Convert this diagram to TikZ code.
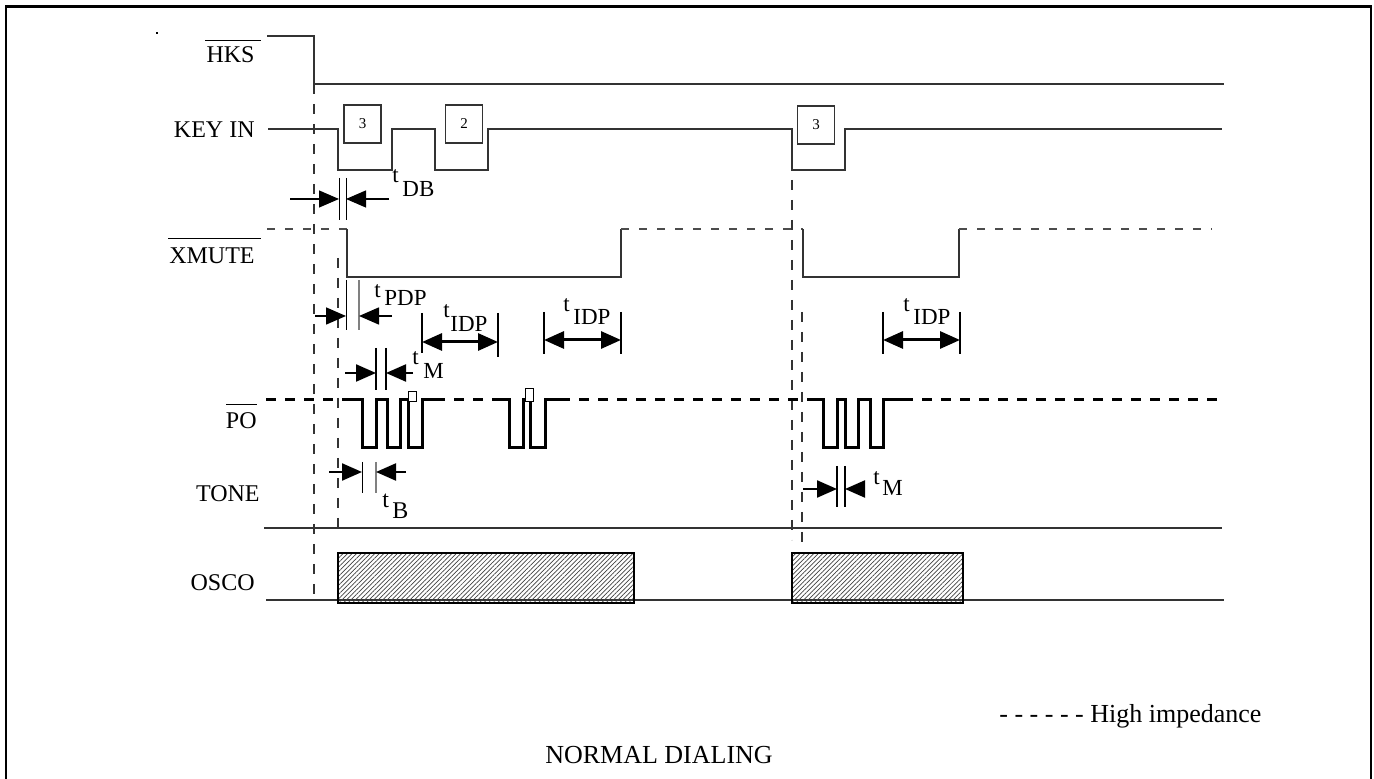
\documentclass[tikz,border=0pt]{standalone}
\usepackage{fontspec}
\setmainfont{Liberation Serif}
\usetikzlibrary{arrows.meta,patterns.meta}
\begin{document}
\begin{tikzpicture}[x=0.5pt,y=-0.5pt,
  sig/.style={line width=0.75pt, draw=black!80},
  hiz/.style={line width=0.7pt, draw=black!70, dash pattern=on 4pt off 5pt},
  guide/.style={line width=0.6pt, draw=black!80, dash pattern=on 5pt off 5pt},
  podash/.style={line width=1.5pt, draw=black, dash pattern=on 5pt off 4.5pt},
  pulse/.style={line width=1.5pt, draw=black},
  thin mk/.style={line width=0.5pt, draw=black},
  gray mk/.style={line width=0.6pt, draw=black!50},
  thick mk/.style={line width=1pt, draw=black},
  lbl/.style={font=\fontsize{12}{14}\selectfont, inner sep=0pt},
  big/.style={font=\fontsize{13}{15}\selectfont, inner sep=0pt},
  tt/.style={font=\fontsize{11.5}{13}\selectfont, inner sep=0pt, anchor=base west},
  dim/.style={-{Triangle[length=10pt,width=8.5pt]}, line width=1.1pt},
  ddim/.style={{Triangle[length=10pt,width=8.5pt]}-{Triangle[length=10pt,width=8.5pt]}, line width=1.5pt},
  keybox/.style={draw=black!80, line width=0.6pt, minimum width=18.5pt, minimum height=19pt, inner sep=0pt, font=\fontsize{7.5}{9}\selectfont},
  hatch/.style={draw=black, line width=0.75pt, pattern={Lines[angle=45,distance=1.6pt,line width=0.35pt]}, pattern color=black!75}
]
\useasboundingbox (0,0) rectangle (1374,779);
% frame
\draw[line width=1.1pt] (6,779) -- (6,6.5) -- (1371,6.5) -- (1371,779);
\fill (156,32) rectangle (158,34);

% labels
\node[lbl,anchor=base east] (hks) at (255,63) {HKS};
\draw[line width=0.5pt] (205,41) -- (261,41);
\node[lbl,anchor=base east] (key) at (255,138) {KEY IN};
\node[lbl,anchor=base east] (xmute) at (255,264) {XMUTE};
\draw[line width=0.5pt] (168,239) -- (261,239);
\node[lbl,anchor=base east] (po) at (257,429) {PO};
\draw[line width=0.5pt] (226,405) -- (257,405);
\node[lbl,anchor=base east] (tone) at (260,502) {TONE};
\node[lbl,anchor=base east] (osco) at (255,590) {OSCO};

% HKS
\draw[sig] (267,36) -- (314,36) -- (314,84) -- (1224,84);
% KEY IN
\draw[sig] (268,129) -- (338,129) -- (338,170) -- (392,170) -- (392,129) -- (435,129) -- (435,170) -- (488,170) -- (488,129) -- (792,129) -- (792,170) -- (845,170) -- (845,129) -- (1222,129);
\node[keybox] (k1) at (362.5,124) {3};
\node[keybox] (k2) at (464,124) {2};
\node[keybox] (k3) at (816,125) {3};

% XMUTE
\draw[hiz] (267,229) -- (347,229);
\draw[sig] (347,229) -- (347,277) -- (621,277) -- (621,229);
\draw[hiz] (621,229) -- (803,229);
\draw[sig] (803,229) -- (803,277) -- (959,277) -- (959,229);
\draw[hiz] (959,229) -- (1212,229);

% guide lines
\draw[guide] (314,84) -- (314,598);
\draw[guide] (338,258) -- (338,530);
\draw[guide] (792,180) -- (792,540);
\draw[guide] (802,312) -- (802,544);

% tDB
\draw[thin mk] (339,178) -- (339,220);
\draw[thin mk] (346,178) -- (346,220);
\coordinate (a1) at (290,199); \coordinate (a2) at (339,199);
\coordinate (a3) at (389,199); \coordinate (a4) at (346,199);
\draw[dim,line width=0.6pt] (a1) -- (a2);
\draw[dim,line width=0.6pt] (a3) -- (a4);
\node[tt] (tdb) at (392,183) {t};
\node[tt] (tdbs) at (402,197) {DB};

% tPDP
\draw[thin mk] (346,280) -- (346,330);
\draw[gray mk] (359,280) -- (359,330);
\coordinate (b1) at (315,316); \coordinate (b2) at (346,316);
\coordinate (b3) at (392,316); \coordinate (b4) at (359,316);
\draw[dim,line width=0.8pt] (b1) -- (b2);
\draw[dim,line width=0.8pt] (b3) -- (b4);
\node[tt] (tpdp) at (374,298) {t};
\node[tt] (tpdps) at (384,306) {PDP};

% tIDP 1
\draw[thick mk] (422,313) -- (422,353);
\draw[thick mk] (498,313) -- (498,357);
\coordinate (c1) at (422,342); \coordinate (c2) at (498,342);
\draw[ddim] (c1) -- (c2);
\node[tt] (ti1) at (443,318) {t};
\node[tt] (ti1s) at (450,332) {IDP};
% tIDP 2
\draw[thick mk] (544,312) -- (544,354);
\draw[thick mk] (621,312) -- (621,354);
\coordinate (d1) at (544,340); \coordinate (d2) at (621,340);
\draw[ddim] (d1) -- (d2);
\node[tt] (ti2) at (563,312) {t};
\node[tt] (ti2s) at (573,325) {IDP};
% tIDP 3
\draw[thick mk] (883,312) -- (883,354);
\draw[thick mk] (960,312) -- (960,354);
\coordinate (e1) at (883,340); \coordinate (e2) at (960,340);
\draw[ddim] (e1) -- (e2);
\node[tt] (ti3) at (903,312) {t};
\node[tt] (ti3s) at (913,325) {IDP};

% tM 1
\draw[thick mk] (376,348) -- (376,390);
\draw[thick mk] (386,348) -- (386,390);
\coordinate (f1) at (345,373); \coordinate (f2) at (376,373);
\coordinate (f3) at (413,373); \coordinate (f4) at (386,373);
\draw[dim] (f1) -- (f2);
\draw[dim] (f3) -- (f4);
\node[tt] (tm1) at (412,365) {t};
\node[tt] (tm1s) at (423,379) {M};
% tM 2
\draw[thick mk] (837,466) -- (837,507);
\draw[thick mk] (845,466) -- (845,507);
\coordinate (g1) at (803,489); \coordinate (g2) at (837,489);
\coordinate (g3) at (863,489); \coordinate (g4) at (845,489);
\draw[dim] (g1) -- (g2);
\draw[dim] (g3) -- (g4);
\node[tt] (tm2) at (873,485) {t};
\node[tt] (tm2s) at (882,496) {M};

% PO
\draw[podash] (266,400) -- (348,400);
\draw[pulse] (348,400) -- (362,400) -- (362,448) -- (376,448) -- (376,400) -- (387,400) -- (387,448) -- (400,448) -- (400,400) -- (408,400) -- (408,448) -- (422,448) -- (422,400) -- (435,400);
\draw[podash] (435,400) -- (495,400);
\draw[pulse] (495,400) -- (509,400) -- (509,448) -- (523,448) -- (523,400) -- (530,400) -- (530,448) -- (545,448) -- (545,400) -- (560,400);
\draw[podash] (560,400) -- (810,400);
\draw[pulse] (810,400) -- (823,400) -- (823,448) -- (837,448) -- (837,400) -- (845,400) -- (845,448) -- (858,448) -- (858,400) -- (870,400) -- (870,448) -- (883,448) -- (883,400) -- (903,400);
\draw[podash] (903,400) -- (1222,400);
\draw[line width=0.5pt, fill=white] (408,392) rectangle (416,402);
\draw[line width=0.5pt, fill=white] (525,389) rectangle (533,402);

% tB
\draw[thin mk] (362,462) -- (362,493);
\draw[gray mk] (376,462) -- (376,493);
\coordinate (h1) at (329,472); \coordinate (h2) at (362,472);
\coordinate (h3) at (406,472); \coordinate (h4) at (376,472);
\draw[dim] (h1) -- (h2);
\draw[dim] (h3) -- (h4);
\node[tt,font=\fontsize{12}{14}\selectfont] (tb) at (382,508) {t};
\node[tt,font=\fontsize{12}{14}\selectfont] (tbs) at (392,519) {B};

% TONE
\draw[sig] (264,528) -- (1222,528);
% OSCO
\draw[sig] (266,600) -- (1224,600);
\draw[hatch] (338,553) rectangle (634,603);
\draw[hatch] (792,553) rectangle (963,603);

% legend and title
\node[big,anchor=base west] (legend) at (999,722) {- - - - - - High impedance};
\node[big,anchor=base] (title) at (659,763) {NORMAL DIALING};
\end{tikzpicture}
\end{document}
